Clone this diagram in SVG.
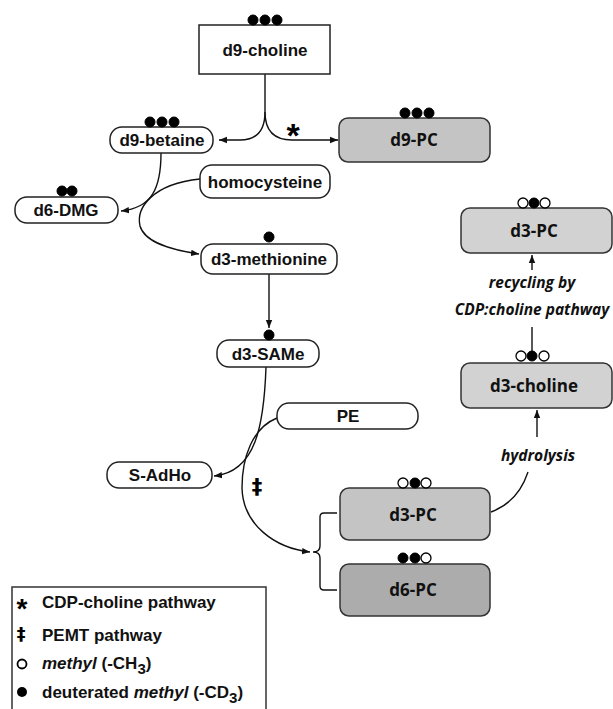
<svg xmlns="http://www.w3.org/2000/svg" width="613" height="709" viewBox="0 0 613 709">
<defs>
<marker id="arr" markerUnits="userSpaceOnUse" markerWidth="10" markerHeight="8" refX="8" refY="4" orient="auto">
<path d="M0,0.8 L8,4 L0,7.2 Z" fill="#111"/>
</marker>
<style>
.box{fill:#fff;stroke:#222;stroke-width:1.5}
.g1{fill:#c4c4c4;stroke:#333;stroke-width:1.5}
.g2{fill:#d2d2d2;stroke:#333;stroke-width:1.5}
.g3{fill:#acacac;stroke:#333;stroke-width:1.5}
.lbl{font-family:"Liberation Sans",Arial,sans-serif;font-weight:bold;font-size:17px;fill:#111;text-anchor:middle}
.lbl2{font-family:"Open Sans","Liberation Sans",sans-serif;font-weight:bold;font-size:17px;fill:#111;text-anchor:middle}
.it{font-family:"Open Sans","Liberation Sans",sans-serif;font-weight:bold;font-style:italic;font-size:15.5px;fill:#111;text-anchor:middle}
.leg{font-family:"Liberation Sans",Arial,sans-serif;font-weight:bold;font-size:17px;fill:#111}
.sym{font-family:"Liberation Sans",Arial,sans-serif;font-weight:bold;fill:#000;text-anchor:middle}
.dag{font-family:"DejaVu Sans",sans-serif;font-weight:bold;fill:#000;text-anchor:middle}
.con{fill:none;stroke:#111;stroke-width:1.4}
.df{fill:#000;stroke:#000;stroke-width:1}
.do{fill:#fff;stroke:#000;stroke-width:1.3}
</style>
</defs>

<g id="connectors">
<path class="con" d="M265,74 L265,112 Q265,140 240,140 L219,140" marker-end="url(#arr)"/>
<path class="con" d="M265,112 Q265,140 292,140 L338,140" marker-end="url(#arr)"/>
<path class="con" d="M161,153 C161,188 152,208 121,211" marker-end="url(#arr)"/>
<path class="con" d="M200,179 C152,184 136,208 140,226 C145,243 172,250 199,254" marker-end="url(#arr)"/>
<path class="con" d="M269,273 L269,328" marker-end="url(#arr)"/>
<path class="con" d="M266,367 C264,425 256,472 214,476" marker-end="url(#arr)"/>
<path class="con" d="M277,418 C252,428 242,458 242,488 C243,525 275,548 310,552" marker-end="url(#arr)"/>
<path class="con" d="M337,513 L324,513 Q320,513 320,517 L320,546 Q320,552 313,552 Q320,552 320,558 L320,586 Q320,590 324,590 L337,590"/>
<path class="con" d="M491,512 C510,505 522,490 528,472"/>
<path class="con" d="M537,437 L537,410" marker-end="url(#arr)"/>
<path class="con" d="M532,327 L532,352"/>
<path class="con" d="M532,270 L532,255" marker-end="url(#arr)"/>
<text x="293" y="147" class="sym" font-size="34">*</text>
<text x="257" y="494" class="dag" font-size="21">‡</text>
<text x="532" y="288" class="it">recycling by</text>
<text x="532" y="315" class="it">CDP:choline pathway</text>
<text x="538" y="461" class="it">hydrolysis</text>
</g>

<g id="d9-choline">
<rect class="box" x="199" y="25" width="131" height="49"/>
<circle class="df" cx="253" cy="20" r="5"/><circle class="df" cx="265" cy="20" r="5"/><circle class="df" cx="277" cy="20" r="5"/>
<text x="265" y="56" class="lbl">d9-choline</text>
</g>

<g id="d9-betaine">
<rect class="box" x="110" y="127" width="103" height="26" rx="12"/>
<circle class="df" cx="150" cy="122" r="5"/><circle class="df" cx="162" cy="122" r="5"/><circle class="df" cx="174" cy="122" r="5"/>
<text x="162" y="146" class="lbl">d9-betaine</text>
</g>

<g id="d9-PC">
<rect class="g1" x="339" y="118" width="151" height="44" rx="9"/>
<circle class="df" cx="405" cy="113" r="5"/><circle class="df" cx="417" cy="113" r="5"/><circle class="df" cx="429" cy="113" r="5"/>
<text x="414" y="146" class="lbl2">d9-PC</text>
</g>

<g id="homocysteine">
<rect class="box" x="200" y="165" width="130" height="33" rx="12"/>
<text x="265" y="188" class="lbl">homocysteine</text>
</g>

<g id="d6-DMG">
<rect class="box" x="15" y="197" width="103" height="26" rx="12"/>
<circle class="df" cx="62" cy="191" r="5"/><circle class="df" cx="72" cy="191" r="5"/>
<text x="66" y="216" class="lbl">d6-DMG</text>
</g>

<g id="d3-methionine">
<rect class="box" x="201" y="244" width="136" height="30" rx="12"/>
<circle class="df" cx="269" cy="237" r="5"/>
<text x="269" y="265" class="lbl">d3-methionine</text>
</g>

<g id="d3-SAMe">
<rect class="box" x="217" y="340" width="102" height="27" rx="12"/>
<circle class="df" cx="269" cy="335" r="5"/>
<text x="268" y="360" class="lbl">d3-SAMe</text>
</g>

<g id="PE">
<rect class="box" x="277" y="403" width="141" height="26" rx="12"/>
<text x="348" y="422" class="lbl">PE</text>
</g>

<g id="S-AdHo">
<rect class="box" x="107" y="462" width="105" height="26" rx="12"/>
<text x="160" y="481" class="lbl">S-AdHo</text>
</g>

<g id="d3-PC-top">
<rect class="g2" x="461" y="208" width="151" height="45" rx="9"/>
<circle class="do" cx="523" cy="203" r="5"/><circle class="do" cx="545" cy="203" r="5"/><circle class="df" cx="534" cy="203" r="5"/>
<text x="534" y="237" class="lbl2">d3-PC</text>
</g>

<g id="d3-choline">
<rect class="g2" x="461" y="363" width="151" height="45" rx="9"/>
<circle class="do" cx="521" cy="356" r="5"/><circle class="do" cx="544" cy="356" r="5"/><circle class="df" cx="532" cy="356" r="5"/>
<text x="534" y="392" class="lbl2">d3-choline</text>
</g>

<g id="d3-PC">
<rect class="g1" x="340" y="488" width="150" height="52" rx="9"/>
<circle class="do" cx="403" cy="483" r="5"/><circle class="do" cx="426" cy="483" r="5"/><circle class="df" cx="415" cy="483" r="5"/>
<text x="413" y="521" class="lbl2">d3-PC</text>
</g>

<g id="d6-PC">
<rect class="g3" x="340" y="564" width="150" height="52" rx="9"/>
<circle class="df" cx="403" cy="558" r="5"/><circle class="do" cx="426" cy="558" r="5"/><circle class="df" cx="415" cy="558" r="5"/>
<text x="413" y="596" class="lbl2">d6-PC</text>
</g>

<g id="legend">
<rect x="12" y="587" width="254" height="140" fill="#fff" stroke="#333" stroke-width="1.5"/>
<text x="22" y="618" class="sym" font-size="28">*</text>
<text x="21" y="640" class="dag" font-size="17.5">‡</text>
<circle cx="22" cy="664" r="4.5" fill="#fff" stroke="#000" stroke-width="1.8"/>
<circle cx="22" cy="692" r="5" fill="#000"/>
<text x="42" y="608" class="leg">CDP-choline pathway</text>
<text x="42" y="641" class="leg">PEMT pathway</text>
<text x="42" y="669" class="leg"><tspan font-style="italic">methyl</tspan> (-CH<tspan font-size="15" dy="5">3</tspan><tspan dy="-5">)</tspan></text>
<text x="42" y="698" class="leg" font-size="18">deuterated <tspan font-style="italic">methyl</tspan> (-CD<tspan font-size="15" dy="5">3</tspan><tspan dy="-5">)</tspan></text>
</g>
</svg>
